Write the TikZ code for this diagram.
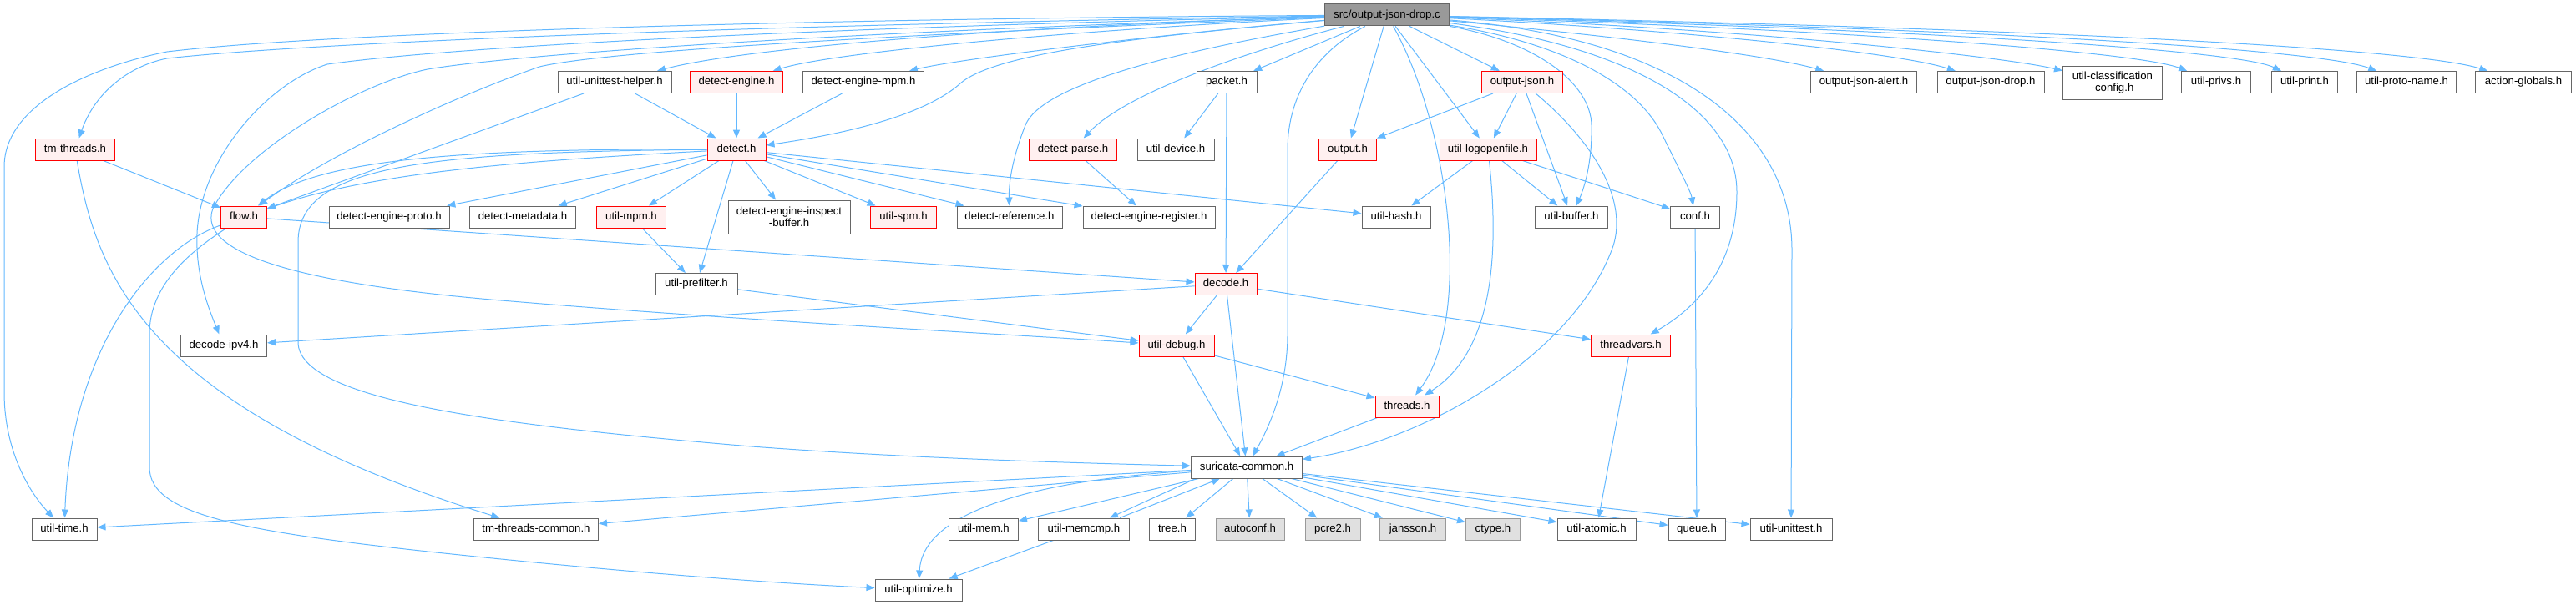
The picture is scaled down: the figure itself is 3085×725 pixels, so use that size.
\documentclass[tikz,border=0pt]{standalone}
\usepackage{fontspec}
\setmainfont{Liberation Sans}
\usetikzlibrary{arrows.meta}
\pgfdeclarelayer{edges}
\pgfsetlayers{edges,main}
\definecolor{edgec}{HTML}{63B8FF}
\definecolor{redfill}{HTML}{FFF0F0}
\definecolor{redline}{HTML}{FF0000}
\definecolor{nodeborder}{HTML}{666666}
\definecolor{greyborder}{HTML}{999999}
\definecolor{greyfill}{HTML}{E0E0E0}
\definecolor{rootfill}{HTML}{999999}
\tikzset{
  box/.style={rectangle, draw=nodeborder, fill=white, line width=1pt, inner sep=0pt, minimum height=26pt, font=\fontsize{13.2}{15}\selectfont, text height=9.6pt, text depth=2.8pt},
  twoline/.style={rectangle, draw=nodeborder, fill=white, line width=1pt, inner sep=0pt, minimum height=40pt, font=\fontsize{13.2}{14.5}\selectfont, align=center},
  redbox/.style={box, draw=redline, fill=redfill},
  greybox/.style={box, draw=greyborder, fill=greyfill},
  rootbox/.style={box, fill=rootfill},
  depedge/.style={draw=edgec, line width=1pt, -{Triangle[length=10pt,width=8pt]}},
}
\begin{document}
\begin{tikzpicture}[x=1pt,y=-1pt]
\useasboundingbox (0,0) rectangle (3085,725);
\node[rootbox, minimum width=149] (root) at (1661,18) {src/output-json-drop.c};
% row 1
\node[box, minimum width=136] (uuh) at (736,98.5) {util-unittest-helper.h};
\node[redbox, minimum width=111] (de) at (882,98.5) {detect-engine.h};
\node[box, minimum width=145] (dem) at (1034,98.5) {detect-engine-mpm.h};
\node[box, minimum width=72] (packet) at (1469,98.5) {packet.h};
\node[redbox, minimum width=97] (oj) at (1823,98.5) {output-json.h};
\node[box, minimum width=127] (oja) at (2232,98.5) {output-json-alert.h};
\node[box, minimum width=128] (ojd) at (2384,98.5) {output-json-drop.h};
\node[twoline, minimum width=119] (ucc) at (2530,99) {util-classification\\-config.h};
\node[box, minimum width=83] (uprivs) at (2654,98.5) {util-privs.h};
\node[box, minimum width=79] (uprint) at (2760,98.5) {util-print.h};
\node[box, minimum width=119] (upn) at (2882,98.5) {util-proto-name.h};
\node[box, minimum width=115] (ag) at (3022,98.5) {action-globals.h};
% row 2
\node[redbox, minimum width=95] (tmt) at (90,179) {tm-threads.h};
\node[redbox, minimum width=70] (detect) at (882,179) {detect.h};
\node[redbox, minimum width=105] (dparse) at (1285,179) {detect-parse.h};
\node[box, minimum width=92] (udev) at (1408,179) {util-device.h};
\node[redbox, minimum width=69] (output) at (1614,179) {output.h};
\node[redbox, minimum width=116] (ulof) at (1782,179) {util-logopenfile.h};
% row 3
\node[redbox, minimum width=55] (flow) at (292,260) {flow.h};
\node[box, minimum width=144] (deproto) at (466,260) {detect-engine-proto.h};
\node[box, minimum width=127] (dmeta) at (626,260) {detect-metadata.h};
\node[redbox, minimum width=83] (umpm) at (756,260) {util-mpm.h};
\node[twoline, minimum width=146] (deib) at (945,260) {detect-engine-inspect\\-buffer.h};
\node[redbox, minimum width=79] (uspm) at (1082,260) {util-spm.h};
\node[box, minimum width=126] (dref) at (1209,260) {detect-reference.h};
\node[box, minimum width=158] (dreg) at (1376,260) {detect-engine-register.h};
\node[box, minimum width=82] (uhash) at (1672,260) {util-hash.h};
\node[box, minimum width=87] (ubuf) at (1882,260) {util-buffer.h};
\node[box, minimum width=59] (conf) at (2030,260) {conf.h};
% row 4
\node[box, minimum width=98] (upref) at (834,340.5) {util-prefilter.h};
\node[redbox, minimum width=74] (decode) at (1468,340.5) {decode.h};
% row 5
\node[box, minimum width=103] (dipv4) at (268,414) {decode-ipv4.h};
\node[redbox, minimum width=90] (udebug) at (1409,414) {util-debug.h};
\node[redbox, minimum width=95] (tvars) at (1953,414) {threadvars.h};
% row 6
\node[redbox, minimum width=76] (threads) at (1685,487) {threads.h};
% row 7
\node[box, minimum width=133] (sc) at (1493,560) {suricata-common.h};
% row 8
\node[box, minimum width=78] (utime) at (77,634) {util-time.h};
\node[box, minimum width=149] (tmtc) at (642,634) {tm-threads-common.h};
\node[box, minimum width=83] (umem) at (1178,634) {util-mem.h};
\node[box, minimum width=109] (umemcmp) at (1298,634) {util-memcmp.h};
\node[box, minimum width=55] (tree) at (1404,634) {tree.h};
\node[greybox, minimum width=82] (autoconf) at (1497,634) {autoconf.h};
\node[greybox, minimum width=66] (pcre) at (1596,634) {pcre2.h};
\node[greybox, minimum width=79] (jansson) at (1692,634) {jansson.h};
\node[greybox, minimum width=65] (ctype) at (1788,634) {ctype.h};
\node[box, minimum width=94] (uatomic) at (1912,634) {util-atomic.h};
\node[box, minimum width=68] (queue) at (2032,634) {queue.h};
\node[box, minimum width=98] (uunit) at (2145,634) {util-unittest.h};
% row 9
\node[box, minimum width=104] (uopt) at (1100,707) {util-optimize.h};

\begin{pgfonlayer}{edges}
% from root, leftwards
\draw[depedge] (root) .. controls (1000,22) and (400,38) .. (200,62) .. controls (110,80) and (5,125) .. (5,200) -- (5,470) .. controls (5,540) and (35,590) .. (utime);
\draw[depedge] (root) .. controls (1000,28) and (400,48) .. (200,70) .. controls (150,80) and (112,115) .. (tmt);
\draw[depedge] (root) .. controls (1000,32) and (550,55) .. (392,77) .. controls (320,100) and (240,190) .. (236,280) .. controls (234,330) and (250,370) .. (dipv4);
\draw[depedge] (root) .. controls (1000,38) and (620,65) .. (512,83) .. controls (430,100) and (290,180) .. (255,250) .. controls (240,290) and (300,335) .. (600,360) .. controls (900,385) and (1200,400) .. (udebug);
\draw[depedge] (root) .. controls (1050,42) and (720,62) .. (646,80) .. controls (560,110) and (400,180) .. (flow);
\draw[depedge] (root) .. controls (1250,30) and (900,55) .. (uuh);
\draw[depedge] (root) .. controls (1300,35) and (1000,62) .. (de);
\draw[depedge] (root) .. controls (1400,40) and (1150,70) .. (dem);
\draw[depedge] (root) .. controls (1350,45) and (1190,65) .. (1150,100) .. controls (1100,145) and (980,165) .. (detect);
\draw[depedge] (root) .. controls (1450,55) and (1250,95) .. (1228,150) .. controls (1212,190) and (1208,220) .. (dref);
\draw[depedge] (root) .. controls (1500,60) and (1350,110) .. (dparse);
\draw[depedge] (root) -- (packet);
\draw[depedge] (root) .. controls (1580,60) and (1542,110) .. (1542,180) -- (1542,400) .. controls (1542,470) and (1515,520) .. (sc);
\draw[depedge] (root) -- (output);
\draw[depedge] (root) -- (oj);
\draw[depedge] (root) -- (ulof);
\draw[depedge] (root) .. controls (1735,150) and (1765,380) .. (threads);
% from root, rightwards
\draw[depedge] (root) .. controls (1840,50) and (1905,100) .. (1906,150) .. controls (1907,200) and (1895,230) .. (ubuf);
\draw[depedge] (root) .. controls (1890,55) and (1965,110) .. (1990,160) .. controls (2012,205) and (2025,230) .. (conf);
\draw[depedge] (root) .. controls (1950,55) and (2080,130) .. (2080,230) .. controls (2080,320) and (2030,370) .. (tvars);
\draw[depedge] (root) .. controls (2000,45) and (2146,150) .. (2146,300) -- (uunit);
\draw[depedge] (root) .. controls (1900,40) and (2110,64) .. (oja);
\draw[depedge] (root) .. controls (2000,35) and (2270,62) .. (ojd);
\draw[depedge] (root) .. controls (2100,35) and (2400,68) .. (ucc);
\draw[depedge] (root) .. controls (2200,35) and (2560,62) .. (uprivs);
\draw[depedge] (root) .. controls (2300,35) and (2680,60) .. (uprint);
\draw[depedge] (root) .. controls (2400,35) and (2780,60) .. (upn);
\draw[depedge] (root) .. controls (2500,35) and (2900,60) .. (ag);
% other edges
\draw[depedge] (uuh) -- (flow);
\draw[depedge] (uuh) -- (detect);
\draw[depedge] (tmt) -- (flow);
\draw[depedge] (tmt) .. controls (115,330) and (175,490) .. (tmtc);
\draw[depedge] (de) -- (detect);
\draw[depedge] (dem) -- (detect);
\draw[depedge] (detect) .. controls (560,178) and (380,190) .. (flow);
\draw[depedge] (detect) .. controls (640,192) and (450,205) .. (flow);
\draw[depedge] (detect) .. controls (500,182) and (357,200) .. (357,290) -- (357,410) .. controls (357,480) and (600,510) .. (900,535) .. controls (1100,550) and (1300,555) .. (sc);
\draw[depedge] (detect) -- (deproto);
\draw[depedge] (detect) -- (dmeta);
\draw[depedge] (detect) -- (umpm);
\draw[depedge] (detect) -- (upref);
\draw[depedge] (detect) -- (deib);
\draw[depedge] (detect) -- (uspm);
\draw[depedge] (detect) -- (dref);
\draw[depedge] (detect) -- (dreg);
\draw[depedge] (detect) -- (uhash);
\draw[depedge] (flow) -- (decode);
\draw[depedge] (flow) .. controls (180,300) and (85,420) .. (utime);
\draw[depedge] (flow) .. controls (230,300) and (179,340) .. (179,400) -- (179,560) .. controls (179,620) and (300,640) .. (600,670) .. controls (800,690) and (950,700) .. (uopt);
\draw[depedge] (umpm) -- (upref);
\draw[depedge] (upref) -- (udebug);
\draw[depedge] (dparse) -- (dreg);
\draw[depedge] (packet) -- (udev);
\draw[depedge] (packet) -- (decode);
\draw[depedge] (output) -- (decode);
\draw[depedge] (oj) -- (output);
\draw[depedge] (oj) -- (ulof);
\draw[depedge] (oj) -- (ubuf);
\draw[depedge] (oj) .. controls (1920,180) and (1950,250) .. (1930,300) .. controls (1880,430) and (1700,530) .. (sc);
\draw[depedge] (ulof) -- (uhash);
\draw[depedge] (ulof) -- (ubuf);
\draw[depedge] (ulof) -- (conf);
\draw[depedge] (ulof) .. controls (1795,300) and (1790,420) .. (threads);
\draw[depedge] (conf) -- (queue);
\draw[depedge] (decode) -- (dipv4);
\draw[depedge] (decode) -- (udebug);
\draw[depedge] (decode) -- (sc);
\draw[depedge] (decode) -- (tvars);
\draw[depedge] (udebug) -- (sc);
\draw[depedge] (udebug) -- (threads);
\draw[depedge] (tvars) -- (uatomic);
\draw[depedge] (threads) -- (sc);
\draw[depedge] (sc) -- (utime);
\draw[depedge] (sc) -- (tmtc);
\draw[depedge] (sc) .. controls (1250,575) and (1105,610) .. (uopt);
\draw[depedge] (sc) -- (umem);
\draw[depedge] ([xshift=6pt]sc.south west) -- ([xshift=86pt]umemcmp.north west);
\draw[depedge] ([xshift=98pt]umemcmp.north west) -- ([xshift=35pt]sc.south west);
\draw[depedge] (sc) -- (tree);
\draw[depedge] (sc) -- (autoconf);
\draw[depedge] (sc) -- (pcre);
\draw[depedge] (sc) -- (jansson);
\draw[depedge] (sc) -- (ctype);
\draw[depedge] (sc) -- (uatomic);
\draw[depedge] (sc) -- (queue);
\draw[depedge] (sc) -- (uunit);
\draw[depedge] (umemcmp) -- (uopt);
\end{pgfonlayer}
\end{tikzpicture}
\end{document}
